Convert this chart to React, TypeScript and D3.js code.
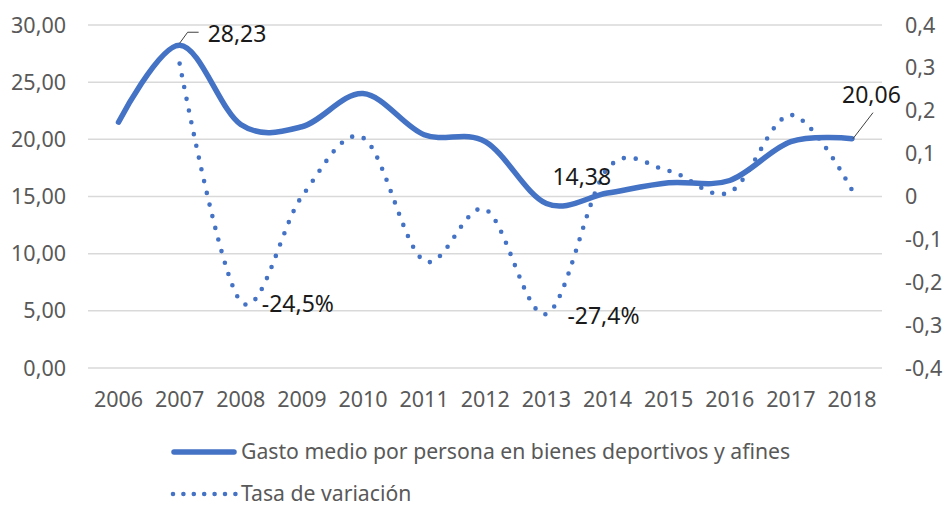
import React from 'react';
import * as d3 from 'd3';

const years = ['2006', '2007', '2008', '2009', '2010', '2011', '2012', '2013', '2014', '2015', '2016', '2017', '2018'];
// gasto medio por persona (euros)
const gasto = [21.5, 28.23, 21.3, 21.1, 24.0, 20.4, 19.8, 14.38, 15.3, 16.2, 16.4, 19.8, 20.06];
// tasa de variación (sin dato en 2006)
const tasa = [null, 0.31, -0.245, 0.0, 0.137, -0.15, -0.03, -0.274, 0.065, 0.06, 0.01, 0.19, 0.015];
const leftTicks = [0, 5, 10, 15, 20, 25, 30];
const rightTicks = [-0.4, -0.3, -0.2, -0.1, 0, 0.1, 0.2, 0.3, 0.4];
const legendNames = ['Gasto medio por persona en bienes deportivos y afines', 'Tasa de variación'];

const W = 946, H = 508;
const blue = '#4472C4';
const grey = '#595959';
const font = '"Noto Sans", sans-serif';
const tickSize = 21.5;
const legendSize = 21.2;

const es = d3.formatLocale({ decimal: ',', thousands: '.', grouping: [3], currency: ['', '€'], minus: '-' });
const f2 = es.format('.2f');
const f1 = es.format('.1f');
const fp = es.format('.1%');

const App = () => {
  const x = d3.scalePoint().domain(years).range([118.5, 852]);
  const yL = d3.scaleLinear().domain([0, 30]).range([368, 25]);
  const yR = d3.scaleLinear().domain([-0.4, 0.4]).range([368, 25]);

  const smooth = d3.curveCatmullRom.alpha(0);
  const lineG = d3.line<number>().x((d, i) => x(years[i])!).y(d => yL(d)).curve(smooth);
  const lineT = d3.line<any>()
    .defined(d => d != null)
    .x((d, i) => x(years[i])!)
    .y(d => yR(d))
    .curve(smooth);

  const px = (yr: string) => x(yr)!;
  const i07 = 1, i08 = 2, i13 = 7, i18 = 12;

  return (
    <svg width={W} height={H} style={{ position: 'absolute', left: 0, top: 0, background: '#fff' }} fontFamily={font}>
      {/* gridlines */}
      {leftTicks.map(t => (
        <line key={'g' + t} x1={88} x2={882} y1={yL(t)} y2={yL(t)} stroke="#d9d9d9" strokeWidth={1.5} />
      ))}
      {/* left axis labels */}
      {leftTicks.map(t => (
        <text key={'l' + t} x={66} y={yL(t)} dy="0.35em" textAnchor="end" fontSize={tickSize} fill={grey}>{f2(t)}</text>
      ))}
      {/* right axis labels */}
      {rightTicks.map(t => (
        <text key={'r' + t} x={905} y={yR(t)} dy="0.35em" textAnchor="start" fontSize={tickSize} fill={grey}>
          {Math.abs(t) < 1e-9 ? '0' : f1(t)}
        </text>
      ))}
      {/* x labels */}
      {years.map(yr => (
        <text key={yr} x={px(yr)} y={407} textAnchor="middle" fontSize={tickSize} fill={grey}>{yr}</text>
      ))}

      {/* series */}
      <path d={lineT(tasa) || ''} fill="none" stroke={blue} strokeWidth={4.6} strokeLinecap="round" strokeDasharray="0 12" />
      <path d={lineG(gasto) || ''} fill="none" stroke={blue} strokeWidth={5.5} strokeLinecap="round" />

      {/* data labels */}
      <polyline
        points={`${px(years[i07])},${yL(gasto[i07]) - 2} ${px(years[i07]) + 8},${yL(gasto[i07]) - 13} ${px(years[i07]) + 19},${yL(gasto[i07]) - 13}`}
        fill="none" stroke="#404040" strokeWidth={1}
      />
      <text x={px(years[i07]) + 28} y={yL(gasto[i07]) - 3} fontSize={23} fill="#1a1a1a">{f2(gasto[i07])}</text>
      <text x={px(years[i08]) + 21} y={yR(tasa[i08]!) + 10} fontSize={23} fill="#1a1a1a">{fp(tasa[i08]!)}</text>
      <text x={px(years[i13]) + 6} y={yL(gasto[i13]) - 19} fontSize={23} fill="#1a1a1a">{f2(gasto[i13])}</text>
      <text x={px(years[i13]) + 21} y={yR(tasa[i13]!) + 10} fontSize={23} fill="#1a1a1a">{fp(tasa[i13]!)}</text>
      <line x1={px(years[i18]) + 1} y1={yL(gasto[i18])} x2={px(years[i18]) + 21} y2={yL(gasto[i18]) - 26} stroke="#404040" strokeWidth={1} />
      <text x={px(years[i18]) - 10} y={yL(gasto[i18]) - 36} fontSize={23} fill="#1a1a1a">{f2(gasto[i18])}</text>

      {/* legend */}
      <line x1={174} x2={234} y1={452} y2={452} stroke={blue} strokeWidth={5.5} strokeLinecap="round" />
      <text x={241} y={452} dy="0.35em" fontSize={legendSize} fill={grey}>{legendNames[0]}</text>
      <line x1={173} x2={236} y1={494} y2={494} stroke={blue} strokeWidth={4.6} strokeLinecap="round" strokeDasharray="0 10.4" />
      <text x={241} y={494} dy="0.35em" fontSize={legendSize} fill={grey}>{legendNames[1]}</text>
    </svg>
  );
};

export default App;
